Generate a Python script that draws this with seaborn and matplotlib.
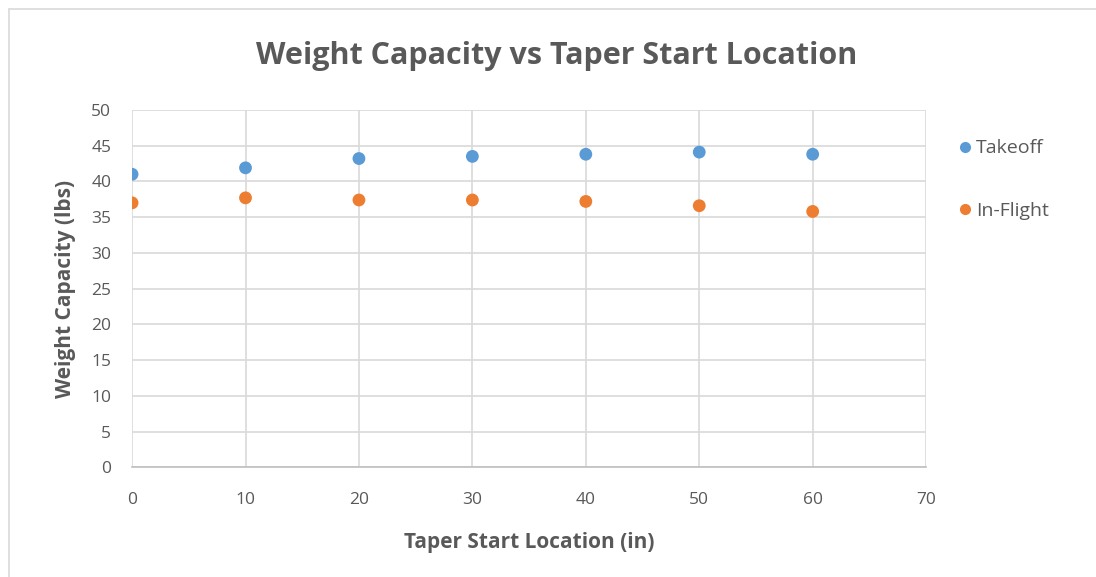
import matplotlib
matplotlib.use("Agg")
import matplotlib.pyplot as plt
from matplotlib.lines import Line2D
import pandas as pd
import seaborn as sns

# Weight capacity measured at each taper start location
taper_start_in = [0, 10, 20, 30, 40, 50, 60]
takeoff_lbs = [41.0, 41.9, 43.2, 43.5, 43.8, 44.1, 43.8]
in_flight_lbs = [37.0, 37.7, 37.4, 37.4, 37.2, 36.6, 35.8]
series_names = ["Takeoff", "In-Flight"]
x_ticks = [0, 10, 20, 30, 40, 50, 60, 70]
y_ticks = [0, 5, 10, 15, 20, 25, 30, 35, 40, 45, 50]

df = pd.DataFrame({
    "Taper Start Location (in)": taper_start_in * 2,
    "Weight Capacity (lbs)": takeoff_lbs + in_flight_lbs,
    "Series": [series_names[0]] * len(taper_start_in) + [series_names[1]] * len(taper_start_in),
})

sns.set_theme(style="white")
plt.rcParams["font.family"] = ["Open Sans", "DejaVu Sans"]

text_grey = "#595959"
grid_grey = "#D9D9D9"
palette = {"Takeoff": "#5B9BD5", "In-Flight": "#ED7D31"}

fig = plt.figure(figsize=(10.96, 5.77), dpi=100)
ax = fig.add_axes([0.1205, 0.19, 0.7245, 0.6195])

sns.scatterplot(
    data=df, x="Taper Start Location (in)", y="Weight Capacity (lbs)",
    hue="Series", palette=palette, s=85, edgecolor="none", ax=ax, legend=False, zorder=3,
)

ax.set_xlim(0, 70)
ax.set_ylim(0, 50)
ax.set_xticks(x_ticks)
ax.set_yticks(y_ticks)
ax.grid(True, color=grid_grey, linewidth=1.2, zorder=0)
ax.set_axisbelow(True)
for side in ["top", "right", "left"]:
    ax.spines[side].set_visible(False)
ax.spines["bottom"].set_color("#BFBFBF")
ax.spines["bottom"].set_linewidth(1.2)
ax.tick_params(axis="both", length=0, colors=text_grey, labelsize=12.5)
ax.tick_params(axis="x", pad=18)
ax.tick_params(axis="y", pad=15)

ax.set_xlabel("Taper Start Location (in)", fontsize=15, fontweight="bold",
              color=text_grey, labelpad=17)
ax.set_ylabel("Weight Capacity (lbs)", fontsize=15, fontweight="bold",
              color=text_grey, labelpad=11)

fig.text(0.508, 0.903, "Weight Capacity vs Taper Start Location", ha="center", va="center",
         fontsize=22, fontweight="bold", color=text_grey)

handles = [
    Line2D([], [], marker="o", linestyle="none", markersize=8,
           markerfacecolor=palette[name], markeredgecolor="none", label=name)
    for name in series_names
]
leg = fig.legend(handles=handles, loc="upper left", bbox_to_anchor=(0.864, 0.772),
                 frameon=False, fontsize=14, labelspacing=2.3, handletextpad=0.0,
                 handlelength=1.1, borderaxespad=0)
for t in leg.get_texts():
    t.set_color(text_grey)

# Chart frame edges
fig.add_artist(Line2D([0.0085, 1.0], [0.984, 0.984], transform=fig.transFigure,
                      color=grid_grey, linewidth=1.2))
fig.add_artist(Line2D([0.0085, 0.0085], [0.0, 0.984], transform=fig.transFigure,
                      color=grid_grey, linewidth=1.2))

fig.savefig("out.png", dpi=100)
